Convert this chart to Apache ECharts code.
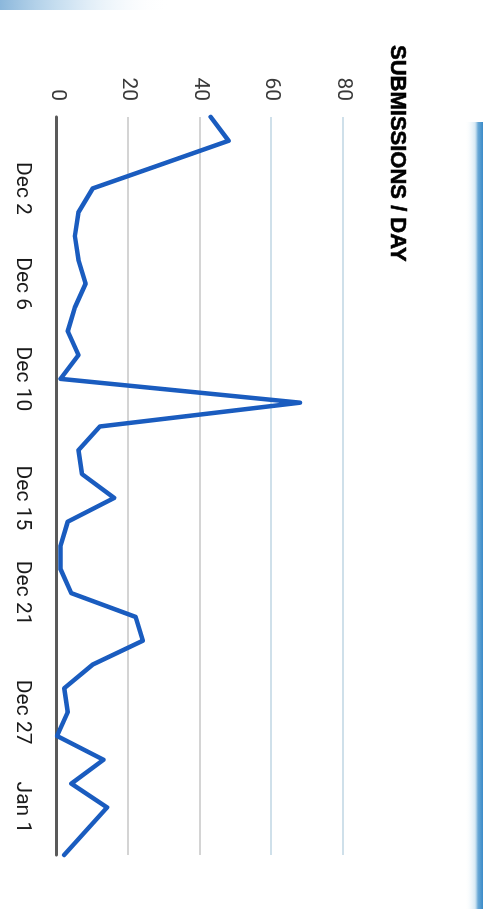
<!DOCTYPE html>
<html>
<head>
<meta charset="utf-8">
<script src="https://cdn.jsdelivr.net/npm/echarts@6/dist/echarts.min.js"></script>
<style>
html, body { margin: 0; padding: 0; width: 483px; height: 909px; overflow: hidden; background: #fff; }
#chart { position: absolute; left: 0; top: 0; width: 909px; height: 483px;
  transform-origin: 0 0; transform: translate(483px, 0) rotate(90deg); }
</style>
</head>
<body>
<div id="chart"></div>
<script>
// One entry per day, Dec 1 .. Jan 1; only some days carry a printed label
const dayLabels = ['', '', '', 'Dec 2', '', '', '', 'Dec 6', '', '', '', 'Dec 10', '', '', '', '',
  'Dec 15', '', '', '', 'Dec 21', '', '', '', '', 'Dec 27', '', '', '', 'Jan 1', '', ''];
const submissions = [43, 48, 29, 10, 6, 5, 6, 8, 5, 3, 6, 1, 68, 12, 6, 7,
  16, 3, 1, 1, 4, 22, 24, 10, 2, 3, 0, 13, 4, 14, 8, 2];
const valueTicks = [0, 20, 40, 60, 80];
const titleText = 'SUBMISSIONS / DAY';

const chart = echarts.init(document.getElementById('chart'));
chart.setOption({
  animation: false,
  backgroundColor: '#fff',
  title: {
    text: titleText, left: 40, top: 70,
    textStyle: { fontFamily: 'Liberation Sans', fontWeight: 'bold', fontSize: 22, color: '#000',
      textBorderColor: '#000', textBorderWidth: 0.6 }
  },
  graphic: [
    { type: 'rect', shape: { x: 122, y: 0, width: 790, height: 18 }, silent: true,
      style: { fill: new echarts.graphic.LinearGradient(0, 0, 0, 1, [
        { offset: 0, color: '#3a8ac8' }, { offset: 0.28, color: '#6aa9d6' },
        { offset: 0.45, color: 'rgba(190,220,238,0.6)' }, { offset: 1, color: 'rgba(255,255,255,0)' }]) } },
    { type: 'rect', shape: { x: 0, y: 313, width: 10, height: 170 }, silent: true,
      style: { fill: new echarts.graphic.LinearGradient(0, 1, 0, 0, [
        { offset: 0, color: 'rgba(110,165,210,0.8)' }, { offset: 0.4, color: 'rgba(160,200,230,0.5)' },
        { offset: 1, color: 'rgba(255,255,255,0)' }]) } }
  ],
  grid: { left: 117, right: 54, top: 140, bottom: 57 },
  xAxis: {
    type: 'category', data: dayLabels, boundaryGap: false,
    axisLine: { lineStyle: { color: '#5a5a5a', width: 3 } },
    axisTick: { show: false },
    axisLabel: { interval: 0, margin: 24, fontFamily: 'Roboto', fontSize: 21, color: '#1a1a1a' },
    splitLine: { show: false }
  },
  yAxis: {
    type: 'value', min: valueTicks[0], max: valueTicks[valueTicks.length - 1], interval: 20,
    axisLine: { show: false }, axisTick: { show: false },
    axisLabel: { margin: 16, fontFamily: 'Roboto', fontSize: 21, color: '#3a3a3a' },
    splitLine: { lineStyle: { color: ['#666', '#c6c6c6', '#c6c6c6', '#bfd6e3', '#bfd6e3'], width: 1.5 } }
  },
  series: [{
    type: 'line', data: submissions, showSymbol: false,
    lineStyle: { color: '#1a5cbf', width: 4.5, join: 'round', cap: 'round' }
  }]
});
</script>
</body>
</html>
